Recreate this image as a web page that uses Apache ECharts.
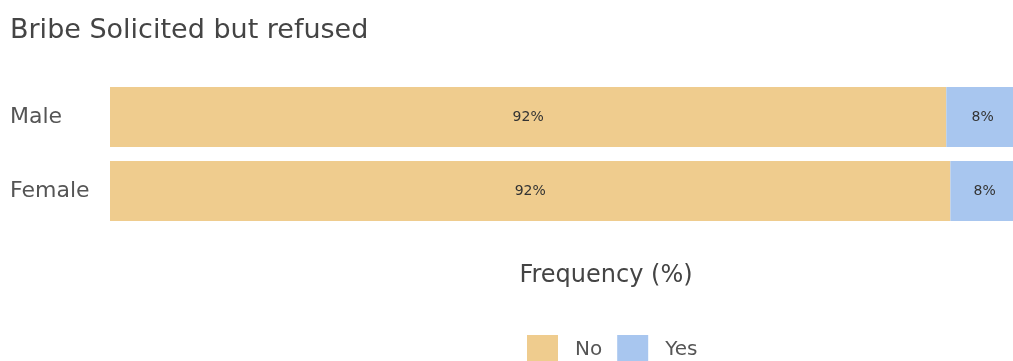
<!DOCTYPE html>
<html>
<head>
<meta charset="utf-8">
<script src="https://cdn.jsdelivr.net/npm/echarts@6/dist/echarts.min.js"></script>
<style>
  html, body { margin: 0; padding: 0; background: #fff; }
  #chart { width: 1013px; height: 361px; }
</style>
</head>
<body>
<div id="chart"></div>
<script>
// Share of respondents asked for a bribe who refused, by gender (%)
const categories = ['Male', 'Female'];
const seriesNames = ['No', 'Yes'];
const noValues = [92, 92.45];
const yesValues = [8, 7.55];
const chartTitle = 'Bribe Solicited but refused';
const axisTitle = 'Frequency (%)';

const colors = { No: '#EFCC8E', Yes: '#A8C6EF' };
const font = '"DejaVu Sans", Verdana, sans-serif';

const chart = echarts.init(document.getElementById('chart'), null, { renderer: 'canvas' });

function barSeries(name, values) {
  return {
    name: name,
    type: 'bar',
    stack: 'total',
    barWidth: 60,
    data: values,
    itemStyle: { color: colors[name] },
    label: {
      show: true,
      position: 'inside',
      formatter: p => Math.round(p.value) + '%',
      color: '#333',
      fontSize: 14,
      fontFamily: font
    },
    emphasis: { disabled: true }
  };
}

chart.setOption({
  animation: false,
  title: {
    text: chartTitle,
    left: 10,
    top: 17,
    padding: 0,
    textStyle: { fontFamily: font, fontSize: 27, fontWeight: 'normal', color: '#444' }
  },
  legend: {
    data: seriesNames,
    left: 527,
    top: 335,
    padding: 0,
    itemWidth: 31,
    itemHeight: 30,
    itemGap: 15,
    icon: 'rect',
    textStyle: { fontFamily: font, fontSize: 20, color: '#555', padding: [0, 0, 0, 12] }
  },
  // the value axis runs a few pixels past the right edge of the page
  grid: {
    left: 110, width: 909, top: 80, height: 148,
    containLabel: false, outerBoundsMode: 'none'
  },
  xAxis: {
    type: 'value',
    min: 0,
    max: 100,
    name: axisTitle,
    nameLocation: 'middle',
    nameGap: 36,
    nameTextStyle: { fontFamily: font, fontSize: 24, color: '#444', padding: [0, 0, 0, 83] },
    axisLine: { show: false },
    axisTick: { show: false },
    axisLabel: { show: false },
    splitLine: { show: false }
  },
  yAxis: {
    type: 'category',
    data: categories,
    inverse: true,
    axisLine: { show: false },
    axisTick: { show: false },
    splitLine: { show: false },
    axisLabel: {
      align: 'left',
      margin: 100,
      fontFamily: font,
      fontSize: 22,
      color: '#555'
    }
  },
  series: [barSeries('No', noValues), barSeries('Yes', yesValues)]
});
</script>
</body>
</html>
